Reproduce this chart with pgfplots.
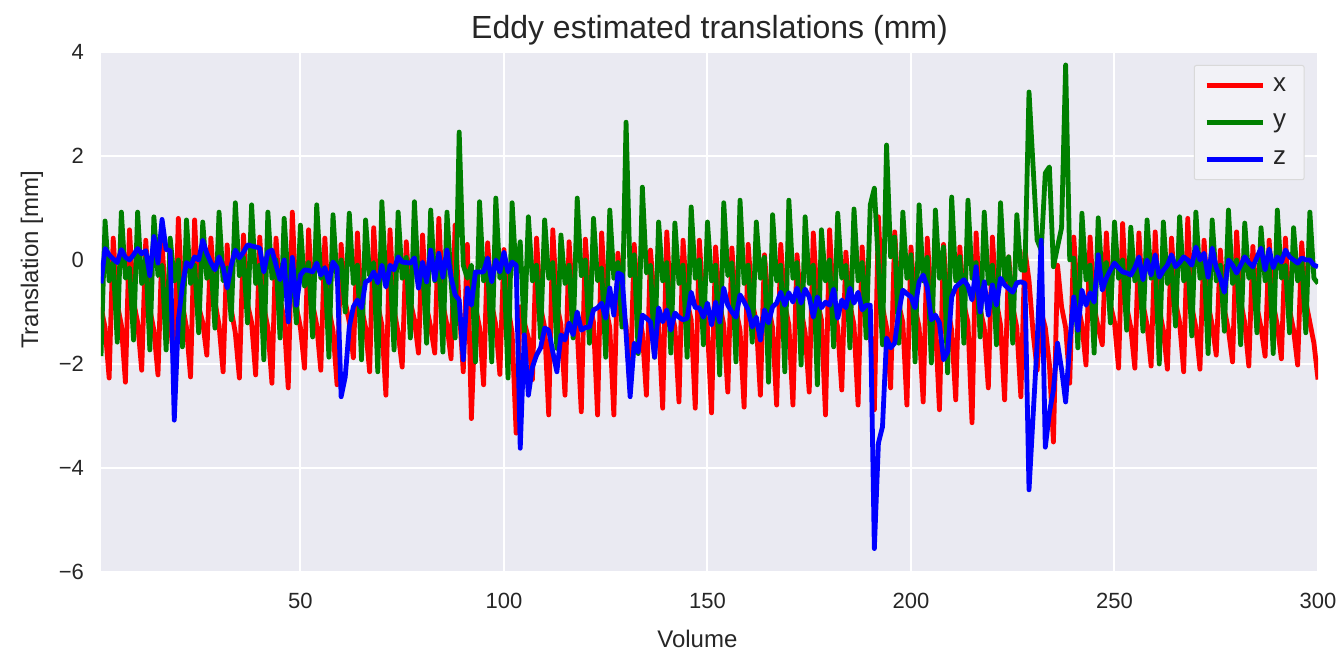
\documentclass[border=0pt]{standalone}
\usepackage{fontspec}
\setmainfont{Liberation Sans}
\usepackage{pgfplots}
\pgfplotsset{compat=1.18}
\usepackage{pgfplotstable}
\definecolor{bg}{HTML}{EAEAF2}
\definecolor{txt}{HTML}{262626}
\definecolor{mgreen}{HTML}{008000}
\definecolor{mred}{HTML}{FF0000}
\definecolor{mblue}{HTML}{0000FF}
\pgfplotstableread{
vol tx ty tz
1 -0.9 -1.85 -0.45
2 -1.3 0.75 0.22
3 -2.27 -0.4 0.1
4 0.42 -0.05 0.02
5 -0.85 -1.58 -0.05
6 -1.25 0.92 0.2
7 -2.35 -0.35 0.05
8 0.58 -0.15 0.0
9 -0.8 -1.54 0.1
10 -1.2 0.92 0.22
11 -2.12 -0.45 0.12
12 0.38 0.05 0.18
13 -0.95 -1.73 -0.3
14 -1.35 0.83 0.45
15 -2.21 -0.3 -0.06
16 0.3 -0.1 0.78
17 -0.88 -1.73 0.2
18 -1.15 0.42 0.18
19 -2.1 -0.4 -3.08
20 0.8 0.0 -1.15
21 -0.85 -1.67 -0.5
22 -1.3 0.77 -0.05
23 -2.25 -0.45 -0.13
24 0.77 -0.1 0.06
25 -0.9 -1.4 0.0
26 -1.2 0.73 0.38
27 -1.83 -0.35 0.13
28 0.42 -0.05 -0.05
29 -0.8 -1.31 -0.19
30 -1.25 0.92 0.06
31 -2.15 -0.4 -0.13
32 0.29 -0.15 -0.54
33 -0.95 -1.15 -0.1
34 -1.4 1.1 0.19
35 -2.27 -0.3 0.04
36 0.48 0.05 0.15
37 -0.85 -1.21 0.29
38 -1.2 1.06 0.27
39 -2.21 -0.45 0.25
40 0.44 -0.1 0.23
41 -0.9 -1.92 -0.23
42 -1.3 0.92 0.15
43 -2.37 -0.35 0.19
44 0.42 0.0 -0.1
45 -0.75 -1.5 -0.38
46 -1.15 0.8 0.0
47 -2.46 -0.4 -1.19
48 0.92 -0.1 0.05
49 -0.9 -1.21 -0.87
50 -1.3 0.67 -0.29
51 -2.08 -0.5 -0.19
52 0.58 -0.05 -0.2
53 -0.85 -1.48 -0.23
54 -1.25 1.06 -0.06
55 -2.12 -0.35 -0.29
56 0.42 -0.15 -0.15
57 -0.95 -1.87 -0.44
58 -1.35 0.87 -0.04
59 -2.4 -0.4 -0.15
60 0.3 0.0 -2.63
61 -0.8 -1.0 -2.25
62 -1.2 0.9 -1.29
63 -1.88 -0.45 -0.9
64 0.52 -0.1 -0.77
65 -0.9 -1.92 -0.92
66 -1.3 0.77 -0.42
67 -2.15 -0.3 -0.38
68 0.62 -0.05 -0.23
69 -0.85 -2.15 -0.44
70 -1.25 1.12 -0.1
71 -2.6 -0.4 -0.52
72 0.58 -0.15 -0.1
73 -0.95 -1.73 -0.19
74 -1.4 0.92 0.06
75 -2.06 -0.35 -0.04
76 0.35 0.05 -0.05
77 -0.8 -1.5 -0.06
78 -1.15 1.12 0.04
79 -1.79 -0.45 -0.54
80 0.48 -0.1 -0.04
81 -0.9 -1.6 -0.42
82 -1.3 0.96 0.19
83 -1.79 -0.4 -0.38
84 0.8 0.0 0.13
85 -0.85 -1.77 -0.33
86 -1.25 0.92 0.19
87 -1.9 -0.4 -0.33
88 0.67 -1.5 -0.67
89 -0.9 2.46 -0.77
90 -2.15 -0.1 -1.92
91 0.3 -0.35 -0.54
92 -3.05 -0.1 -0.87
93 -0.9 -1.96 -0.23
94 -1.3 1.12 -0.23
95 -2.4 -0.4 -0.23
96 0.33 -0.05 0.04
97 -0.85 -1.96 -0.42
98 -1.25 1.19 0.0
99 -2.2 -0.35 -0.23
100 0.2 -0.1 0.15
101 -0.9 -2.27 -0.23
102 -1.4 1.1 -0.04
103 -3.33 -0.3 -0.1
104 -0.9 0.35 -3.62
105 -1.2 -1.4 -1.44
106 -1.5 0.83 -2.6
107 -2.3 -0.4 -2.06
108 0.42 -0.1 -1.83
109 -0.9 -1.5 -1.69
110 -1.3 0.77 -1.31
111 -2.98 -0.35 -1.35
112 0.58 -0.05 -1.77
113 -0.85 -1.7 -2.15
114 -1.25 0.48 -1.44
115 -2.6 -0.45 -1.54
116 0.35 -0.1 -1.21
117 -0.95 -1.5 -1.44
118 -1.35 1.19 -1.0
119 -2.92 -0.3 -1.35
120 0.4 0.0 -1.3
121 -0.8 -1.6 -1.29
122 -1.2 0.8 -0.96
123 -2.98 -0.4 -0.92
124 0.52 -0.15 -0.83
125 -0.9 -1.87 -1.12
126 -1.3 0.96 -0.54
127 -2.98 -0.35 -1.06
128 0.13 -0.05 -0.25
129 -0.85 -1.29 -0.29
130 -1.25 2.65 -1.4
131 -2.5 -0.3 -2.63
132 0.3 0.1 -1.6
133 -0.95 -1.8 -1.77
134 -1.4 1.4 -1.06
135 -2.6 -0.25 -1.12
136 0.19 -0.1 -1.19
137 -0.85 -1.87 -1.87
138 -1.2 0.73 -0.92
139 -2.85 -0.4 -1.19
140 0.54 -0.05 -0.96
141 -0.9 -1.79 -1.35
142 -1.3 0.71 -1.02
143 -2.73 -0.45 -1.1
144 0.38 -0.1 -1.15
145 -0.8 -1.87 -1.12
146 -1.15 1.02 -0.62
147 -2.85 -0.35 -0.92
148 0.38 0.0 -0.92
149 -0.9 -1.63 -1.1
150 -1.3 0.73 -0.83
151 -2.94 -0.4 -1.25
152 0.25 -0.1 -0.81
153 -0.85 -2.21 -1.19
154 -1.25 1.1 -0.54
155 -2.54 -0.3 -0.87
156 0.23 -0.05 -1.0
157 -0.95 -1.96 -1.1
158 -1.35 1.15 -0.67
159 -2.83 -0.45 -0.8
160 0.3 -0.1 -0.96
161 -0.8 -1.58 -1.29
162 -1.2 0.73 -1.1
163 -2.6 -0.35 -1.54
164 0.1 0.05 -0.96
165 -0.9 -2.35 -1.21
166 -1.3 0.87 -0.9
167 -2.79 -0.4 -0.83
168 0.3 -0.1 -0.62
169 -0.85 -2.15 -0.87
170 -1.25 1.15 -0.63
171 -2.79 -0.35 -0.81
172 0.1 -0.05 -0.54
173 -0.95 -2.02 -0.83
174 -1.4 0.83 -0.56
175 -2.54 -0.45 -0.71
176 0.52 -0.1 -1.1
177 -0.8 -2.4 -0.71
178 -1.15 0.58 -0.92
179 -2.98 -0.4 -0.81
180 0.58 0.0 -0.87
181 -0.9 -1.67 -0.56
182 -1.3 0.9 -1.12
183 -2.5 -0.35 -0.77
184 0.15 -0.1 -0.92
185 -0.85 -1.69 -0.54
186 -1.25 0.98 -0.83
187 -2.79 -0.4 -0.62
188 0.25 -0.05 -0.96
189 -0.95 -1.5 -0.87
190 -1.35 1.06 -0.87
191 -2.88 1.38 -5.55
192 0.83 -0.1 -3.52
193 -0.9 -1.63 -3.21
194 -1.3 2.21 -1.5
195 -2.46 0.06 -1.69
196 0.54 0.44 -1.6
197 -0.85 -1.6 -1.0
198 -1.2 0.92 -0.58
199 -2.79 -0.35 -0.65
200 0.25 0.1 -0.71
201 -0.9 -1.96 -0.92
202 -1.3 1.06 -0.42
203 -2.73 -0.4 -0.29
204 0.42 0.05 -0.52
205 -0.8 -1.98 -1.15
206 -1.25 0.96 -1.06
207 -2.88 -0.35 -1.21
208 0.3 0.25 -1.92
209 -0.9 -2.17 -1.77
210 -1.35 1.21 -0.71
211 -2.69 -0.4 -0.52
212 0.25 0.06 -0.45
213 -0.85 -1.6 -0.38
214 -1.2 1.15 -0.5
215 -3.13 -0.35 -0.77
216 0.52 -0.05 -0.13
217 -0.95 -1.48 -1.0
218 -1.3 0.92 -0.42
219 -2.46 -0.45 -1.06
220 0.44 -0.1 -0.48
221 -0.8 -1.63 -0.87
222 -1.25 1.1 -0.35
223 -2.69 -0.4 -0.48
224 0.06 0.06 -0.55
225 -0.9 -1.6 -0.62
226 -1.3 0.87 -0.44
227 -2.63 -0.19 -0.42
228 0.19 -0.2 -0.45
229 -0.4 3.23 -4.42
230 -1.4 1.8 -3.0
231 -2.12 0.38 -1.6
232 -1.0 0.19 0.38
233 -1.3 1.67 -3.6
234 -2.0 1.79 -2.94
235 -3.5 -0.13 -2.5
236 -0.1 0.25 -1.6
237 -0.9 0.62 -2.1
238 -1.3 3.75 -2.73
239 -2.37 0.0 -1.6
240 0.44 0.04 -0.71
241 -0.85 -1.69 -1.35
242 -1.25 0.9 -0.58
243 -2.02 -0.38 -0.87
244 0.44 -0.1 -0.63
245 -0.9 -1.79 -0.81
246 -1.3 0.81 0.1
247 -1.63 -0.4 -0.58
248 0.52 -0.05 -0.35
249 -0.85 -1.21 -0.19
250 -1.2 0.73 -0.06
251 -2.08 -0.35 -0.15
252 0.7 0.0 -0.23
253 -0.9 -1.35 -0.25
254 -1.3 0.63 -0.29
255 -2.08 -0.4 -0.15
256 0.52 -0.1 0.06
257 -0.85 -1.37 -0.38
258 -1.25 0.77 0.0
259 -2.04 -0.35 -0.29
260 0.54 -0.05 0.1
261 -0.95 -2.0 -0.33
262 -1.35 0.73 -0.2
263 -2.1 -0.45 -0.1
264 0.42 -0.1 0.1
265 -0.8 -1.27 -0.13
266 -1.2 0.83 -0.05
267 -2.15 -0.4 0.06
268 0.8 0.0 0.0
269 -0.9 -1.46 -0.1
270 -1.3 0.92 0.25
271 -2.1 -0.35 0.0
272 0.38 -0.05 0.13
273 -0.85 -1.8 -0.33
274 -1.25 0.77 0.23
275 -1.83 -0.4 -0.15
276 0.19 -0.1 -0.35
277 -0.95 -1.37 -0.62
278 -1.35 0.96 0.0
279 -1.96 -0.45 -0.1
280 0.54 0.0 -0.25
281 -0.8 -1.63 -0.1
282 -1.2 0.71 0.06
283 -2.04 -0.35 -0.05
284 0.26 -0.1 -0.13
285 -0.9 -1.4 0.05
286 -1.3 0.62 0.23
287 -1.85 -0.4 -0.19
288 0.38 -0.05 0.21
289 -0.85 -1.8 -0.15
290 -1.25 0.96 0.06
291 -1.9 -0.35 -0.04
292 0.42 -0.1 0.19
293 -0.95 -1.4 0.06
294 -1.35 0.62 0.0
295 -2.02 -0.4 -0.06
296 0.33 0.0 0.04
297 -0.8 -1.4 0.0
298 -1.2 0.92 0.0
299 -1.6 -0.35 -0.1
300 -2.3 -0.45 -0.13
}\datatable

\begin{document}
\begin{tikzpicture}
\begin{axis}[
  name=ax,
  scale only axis,
  width=608.5pt, height=260pt,
  xmin=1, xmax=300, ymin=-6, ymax=4,
  axis background/.style={fill=bg},
  axis line style={draw=none},
  major tick length=0pt,
  grid=major,
  grid style={white, line width=1pt},
  xtick={50,100,150,200,250,300},
  xticklabels={50,100,150,200,250,300},
  ytick={-6,-4,-2,0,2,4},
  yticklabels={−6,−4,−2,0,2,4},
  tick label style={font=\fontsize{11}{13}\selectfont, text=txt},
  xticklabel style={yshift=-7pt},
  yticklabel style={xshift=-5pt},
  xlabel={Volume},
  ylabel={Translation [mm]},
  label style={font=\fontsize{12}{14}\selectfont, text=txt},
  xlabel style={at={(axis description cs:0.49,-0.128)}, anchor=center},
  ylabel style={at={(axis description cs:-0.0567,0.6)}, anchor=center},
  every axis title shift=0pt,
  title={Eddy estimated translations (mm)},
  title style={font=\fontsize{16}{19}\selectfont, text=txt, at={(axis description cs:0.5,1.042)}, anchor=center},
  legend cell align=left,
  legend image code/.code={\draw[#1] (0pt,0pt) -- (28pt,0pt);},
  legend style={at={(axis description cs:0.989,0.975)}, anchor=north east,
    fill=bg!60!white, draw=black!15, line width=0.5pt, rounded corners=1pt,
    font=\fontsize{13}{15}\selectfont, text=txt,
    inner xsep=5pt, inner ysep=4pt, row sep=6pt,
    nodes={inner xsep=4pt}},
]
\addplot[mred, line width=2.4pt, line join=round] table[x=vol, y=tx] {\datatable};
\addlegendentry{x}
\addplot[mgreen, line width=2.4pt, line join=round] table[x=vol, y=ty] {\datatable};
\addlegendentry{y}
\addplot[mblue, line width=2.4pt, line join=round] table[x=vol, y=tz] {\datatable};
\addlegendentry{z}
\end{axis}
\pgfresetboundingbox
\path[use as bounding box] ([xshift=-50.5pt,yshift=-40.5pt]ax.south west) rectangle ([xshift=13pt,yshift=26pt]ax.north east);
\end{tikzpicture}
\end{document}
